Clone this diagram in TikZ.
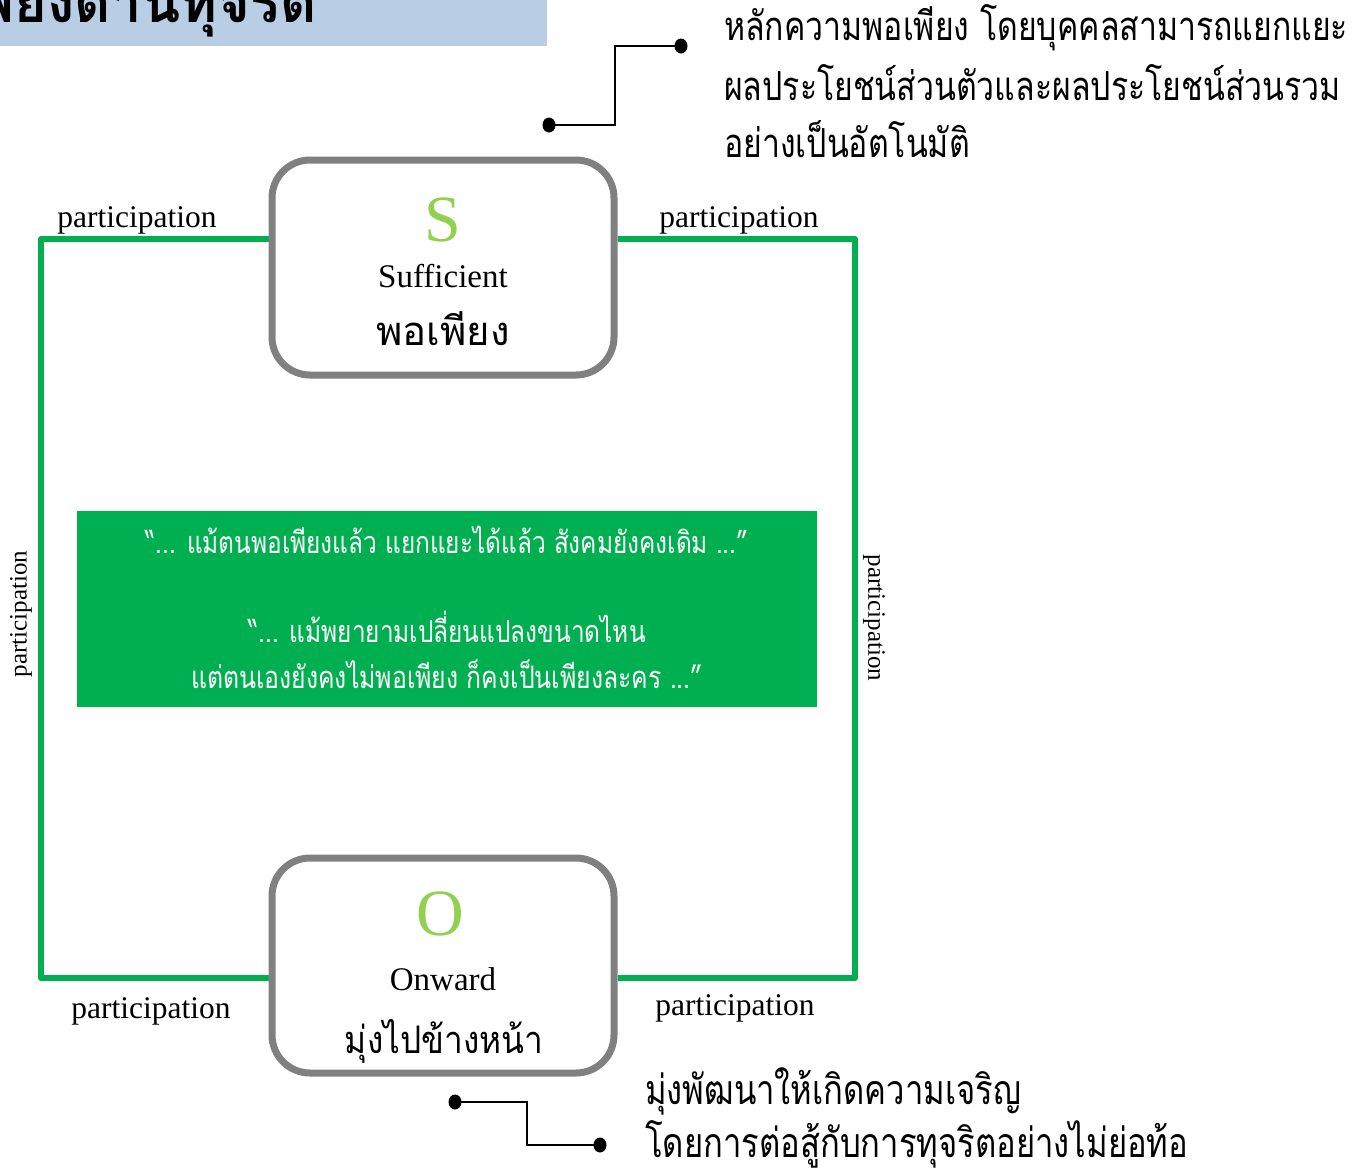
\documentclass[tikz,border=0pt]{standalone}
\usepackage{fontspec}
\setmainfont{Liberation Serif}
\newfontfamily\thai[Script=Thai]{Loma}
\newfontfamily\thain[Script=Thai,FakeStretch=0.88]{Loma}
\newfontfamily\thaic[Script=Thai,FakeStretch=0.8]{Loma}
\usetikzlibrary{backgrounds,shapes.geometric}
\definecolor{loopgreen}{HTML}{00B050}
\definecolor{lettergreen}{HTML}{92D050}
\definecolor{boxgray}{HTML}{808080}
\definecolor{bannerblue}{HTML}{B9CDE5}
\begin{document}
\begin{tikzpicture}[x=1pt,y=-1pt,
  framebox/.style={draw=boxgray, line width=7pt, rounded corners=38pt, fill=white,
    minimum width=342pt, minimum height=215pt, inner sep=0pt},
  part/.style={font=\fontsize{31.5}{36}\selectfont, inner sep=0pt},
  sidepart/.style={font=\fontsize{25}{30}\selectfont, inner sep=0pt},
  bigletter/.style={font=\fontsize{66}{70}\selectfont, text=lettergreen, anchor=base, inner sep=0pt},
  engword/.style={font=\fontsize{33}{38}\selectfont, anchor=base, inner sep=0pt},
  thaiword/.style={font=\thai\fontsize{40}{46}\selectfont, anchor=base, inner sep=0pt},
  dotmark/.style={ellipse, fill=black, inner sep=0pt, minimum width=13pt, minimum height=15pt},
  callout/.style={line width=1.8pt},
  loopline/.style={draw=loopgreen, line width=6pt, line join=round},
  thaibody/.style={font=\thaic\fontsize{40}{46}\selectfont, anchor=base west, inner sep=0pt},
  quote/.style={font=\thaic\fontsize{31}{38}\selectfont, text=white, anchor=base, inner sep=0pt}
]
\useasboundingbox (0,0) rectangle (1361,1171);
\clip (0,0) rectangle (1361,1171);

% title banner
\fill[bannerblue] (0,-10) rectangle (547,46);
\node[font=\thai\bfseries\fontsize{56}{60}\selectfont, anchor=base east, inner sep=0pt] (title) at (317,22) {STRONG : จิตพอเพียงต้านทุจริต};

% boxes
\node[framebox] (S) at (443,267.5) {};
\node[framebox] (O) at (443,965.5) {};

\begin{pgfonlayer}{background}
\draw[loopline] ([yshift=28.5pt]S.west) -- (41,239) -- (41,978) -- ([yshift=-12.5pt]O.west);
\draw[loopline] ([yshift=28.5pt]S.east) -- (855,239) -- (855,978) -- ([yshift=-12.5pt]O.east);
\end{pgfonlayer}

\node[bigletter] (sletter) at (443,241) {S};
\node[engword] (sword) at (443,287) {Sufficient};
\node[thaiword] (sthai) at (443,345) {พอเพียง};

\node[bigletter] (oletter) at (440,935) {O};
\node[engword] (oword) at (443,990) {Onward};
\node[thaiword, font=\thain\fontsize{38}{44}\selectfont] (othai) at (444,1053) {มุ่งไปข้างหน้า};

% participation labels
\node[part, anchor=base] (p1) at (137,227) {participation};
\node[part, anchor=base] (p2) at (739,227) {participation};
\node[part, anchor=base] (p3) at (151,1018) {participation};
\node[part, anchor=base] (p4) at (735,1015) {participation};
\node[sidepart, rotate=90] (p5) at (21,614) {participation};
\node[sidepart, rotate=-90] (p6) at (874,618) {participation};

% quote box
\node[fill=loopgreen, minimum width=740pt, minimum height=196pt, inner sep=0pt] (quotebox) at (447,609) {};
\node[quote, font=\thaic\fontsize{30.5}{36}\selectfont] (q1) at (447,553) {“... แม้ตนพอเพียงแล้ว แยกแยะได้แล้ว สังคมยังคงเดิม ...”};
\node[quote, font=\thaic\fontsize{30.5}{36}\selectfont] (q2) at (447,642) {“... แม้พยายามเปลี่ยนแปลงขนาดไหน};
\node[quote] (q3) at (447,688) {แต่ตนเองยังคงไม่พอเพียง ก็คงเป็นเพียงละคร ...”};

% top callout
\node[dotmark] (d1) at (549,125) {};
\node[dotmark] (d2) at (681,46) {};
\draw[callout] (d1.center) -- (615,125) |- (d2.center);
\node[thaibody] (t1) at (724,40) {หลักความพอเพียง โดยบุคคลสามารถแยกแยะ};
\node[thaibody] (t2) at (724,100) {ผลประโยชน์ส่วนตัวและผลประโยชน์ส่วนรวม};
\node[thaibody] (t3) at (724,157) {อย่างเป็นอัตโนมัติ};

% bottom callout
\node[dotmark] (d3) at (455,1102) {};
\node[dotmark] (d4) at (600,1145) {};
\draw[callout] (d3.center) -- (527,1102) |- (d4.center);
\node[thaibody, font=\thaic\fontsize{41}{46}\selectfont] (b1) at (645,1104) {มุ่งพัฒนาให้เกิดความเจริญ};
\node[thaibody, font=\thaic\fontsize{41}{46}\selectfont] (b2) at (645,1157) {โดยการต่อสู้กับการทุจริตอย่างไม่ย่อท้อ};
\end{tikzpicture}
\end{document}
